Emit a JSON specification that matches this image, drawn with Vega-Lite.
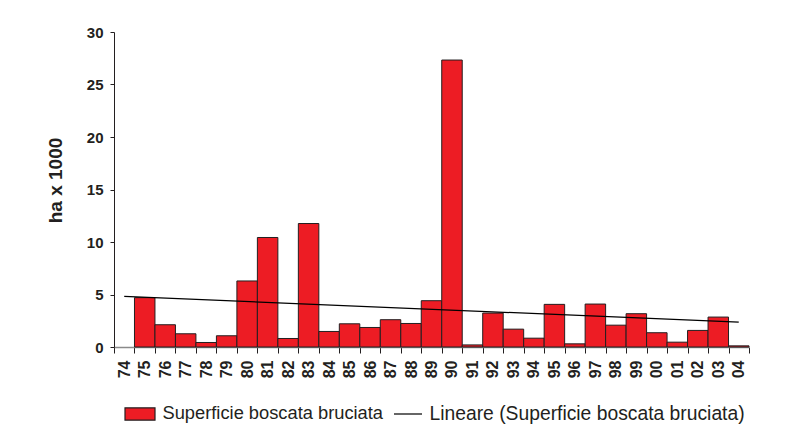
{
  "$schema": "https://vega.github.io/schema/vega-lite/v6.json",
  "width": 635,
  "height": 315,
  "autosize": {"type": "none"},
  "padding": {"left": 114, "top": 32, "right": 42, "bottom": 93},
  "background": "white",
  "config": {
    "view": {"stroke": null},
    "font": "Liberation Sans"
  },
  "datasets": {
    "bars": [
      {"anno": "75", "valore": 4.7},
      {"anno": "76", "valore": 2.12},
      {"anno": "77", "valore": 1.26},
      {"anno": "78", "valore": 0.43},
      {"anno": "79", "valore": 1.07},
      {"anno": "80", "valore": 6.29},
      {"anno": "81", "valore": 10.43},
      {"anno": "82", "valore": 0.81},
      {"anno": "83", "valore": 11.76},
      {"anno": "84", "valore": 1.48},
      {"anno": "85", "valore": 2.21},
      {"anno": "86", "valore": 1.86},
      {"anno": "87", "valore": 2.6},
      {"anno": "88", "valore": 2.24},
      {"anno": "89", "valore": 4.41},
      {"anno": "90", "valore": 27.33},
      {"anno": "91", "valore": 0.2},
      {"anno": "92", "valore": 3.23},
      {"anno": "93", "valore": 1.7},
      {"anno": "94", "valore": 0.84},
      {"anno": "95", "valore": 4.06},
      {"anno": "96", "valore": 0.3},
      {"anno": "97", "valore": 4.09},
      {"anno": "98", "valore": 2.08},
      {"anno": "99", "valore": 3.17},
      {"anno": "00", "valore": 1.36},
      {"anno": "01", "valore": 0.46},
      {"anno": "02", "valore": 1.58},
      {"anno": "03", "valore": 2.85},
      {"anno": "04", "valore": 0.11}
    ],
    "trend": [
      {"anno": "74", "valore": 4.82},
      {"anno": "04", "valore": 2.37}
    ]
  },
  "encoding": {
    "x": {
      "field": "anno",
      "type": "nominal",
      "sort": null,
      "scale": {
        "domain": ["74","75","76","77","78","79","80","81","82","83","84","85","86","87","88","89","90","91","92","93","94","95","96","97","98","99","00","01","02","03","04"],
        "paddingInner": 0,
        "paddingOuter": 0
      },
      "axis": {
        "title": null,
        "tickBand": "extent",
        "labelAngle": -90,
        "labelFontSize": 16,
        "labelFontWeight": "bold",
        "labelColor": "#231F20",
        "labelPadding": 7,
        "tickSize": 6,
        "tickColor": "#231F20",
        "domainColor": "#8A8A8A",
        "domainWidth": 1.5,
        "grid": false
      }
    },
    "y": {
      "field": "valore",
      "type": "quantitative",
      "scale": {"domain": [0, 30], "nice": false},
      "axis": {
        "title": "ha x 1000",
        "values": [0, 5, 10, 15, 20, 25, 30],
        "grid": false,
        "labelFontSize": 15,
        "labelFontWeight": "bold",
        "labelColor": "#231F20",
        "labelPadding": 7,
        "tickSize": 4,
        "tickColor": "#231F20",
        "domainColor": "#231F20",
        "titleFontSize": 19,
        "titleFontWeight": "bold",
        "titleColor": "#231F20",
        "titleAngle": -90,
        "titleX": -59,
        "titleY": 148,
        "titleAlign": "center",
        "titleBaseline": "middle"
      }
    }
  },
  "layer": [
    {
      "data": {"name": "bars"},
      "mark": {"type": "bar", "stroke": "#231F20", "strokeWidth": 1},
      "encoding": {
        "fill": {
          "datum": "Superficie boscata bruciata",
          "type": "nominal",
          "scale": {"domain": ["Superficie boscata bruciata"], "range": ["#ED1C24"]},
          "legend": {
            "title": null,
            "orient": "none",
            "direction": "horizontal",
            "legendX": 10,
            "legendY": 366,
            "padding": 0,
            "labelFontSize": 18.3,
            "labelColor": "#231F20",
            "labelLimit": 400,
            "labelOffset": 6.5,
            "symbolType": "M-1,-0.41H1V0.41H-1Z",
            "symbolSize": 900,
            "symbolFillColor": "#ED1C24",
            "symbolStrokeColor": "#231F20",
            "symbolStrokeWidth": 1.2,
            "symbolOpacity": 1
          }
        }
      }
    },
    {
      "data": {"name": "trend"},
      "mark": {"type": "line", "strokeWidth": 1.2},
      "encoding": {
        "stroke": {
          "datum": "Lineare (Superficie boscata bruciata)",
          "type": "nominal",
          "scale": {"domain": ["Lineare (Superficie boscata bruciata)"], "range": ["#000000"]},
          "legend": {
            "title": null,
            "orient": "none",
            "direction": "horizontal",
            "legendX": 279,
            "legendY": 367,
            "padding": 0,
            "labelFontSize": 19.3,
            "labelColor": "#231F20",
            "labelLimit": 400,
            "labelOffset": 6.5,
            "symbolType": "stroke",
            "symbolSize": 784,
            "symbolStrokeColor": "#000000",
            "symbolStrokeWidth": 1.2
          }
        }
      }
    }
  ]
}
